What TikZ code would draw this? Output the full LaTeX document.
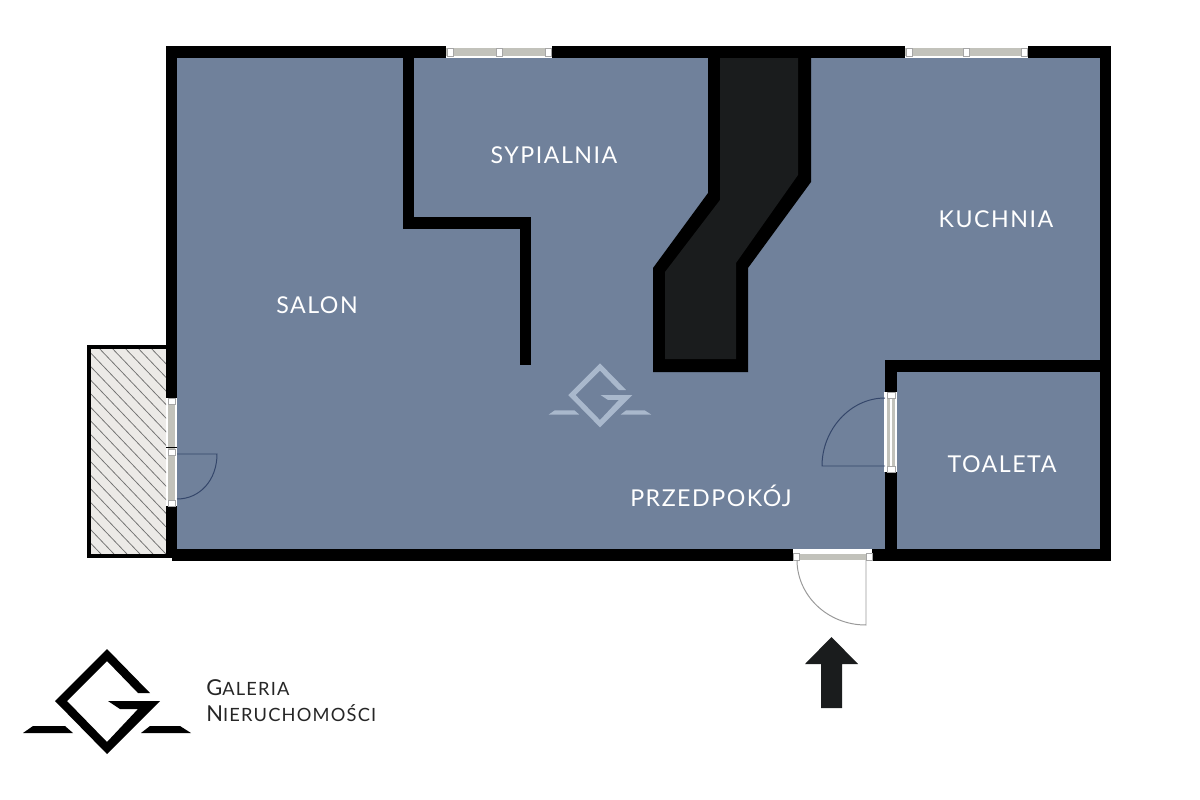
\documentclass[tikz,border=0pt]{standalone}
\usepackage{fontspec}
\setmainfont[LetterSpace=6.5]{Lato}
\usepackage{xcolor}
\definecolor{floorblue}{HTML}{70819B}
\definecolor{flueblack}{HTML}{1A1C1D}
\definecolor{glassgrey}{HTML}{C2C2BB}
\definecolor{terrace}{HTML}{ECEAE7}
\definecolor{markblue}{HTML}{A9B8CC}
\definecolor{leafblue}{HTML}{34466A}
\newcommand{\sashframe}[4]{%
  \fill[white] (#1,#3) rectangle (#2,#4);}
\tikzset{
  logomark/.pic={
    \fill (107,649) -- (150,693) -- (138,693) -- (107,661) -- (67,701) -- (107,742)
      -- (138,709) -- (120,709) -- (108,701) -- (160,701) -- (107,754) -- (55,701) -- cycle;
    \fill (23,733) -- (33,726) -- (65,726) -- (73,733) -- cycle;
    \fill (141,733) -- (150,726) -- (180,726) -- (191,733) -- cycle;
  }
}

\begin{document}
\begin{tikzpicture}[
  x=0.25mm, y=-0.25mm,
  wall/.style={fill=black},
  glass/.style={fill=glassgrey},
  sash/.style={fill=white, draw=gray!70, line width=0.3pt},
  leaf/.style={draw=leafblue, line width=0.7pt},
  leafout/.style={draw=gray!80, line width=0.7pt},
  room/.style={text=white, font=\fontsize{16.5}{18}\selectfont},
  brand/.style={text=black!85, anchor=west, inner sep=0pt, font=\fontsize{13}{14}\selectfont}
]
  \useasboundingbox (0,0) rectangle (1200,800);

  % terrace
  \fill[terrace] (88,346) rectangle (166,557);
  \begin{scope}
    \clip (88,346) rectangle (166,557);
    \foreach \hx in {-150,-137,...,160}
      \draw[gray!90!black, line width=0.55pt] (\hx,346) -- ++(220,230);
  \end{scope}
  \draw[black, line width=2.6pt] (166,347) -- (89,347) -- (89,556) -- (172,556);

  % floor
  \fill[floorblue] (172,52) rectangle (1105,555);

  % outer walls
  \fill[wall] (166,46) rectangle (446,58);
  \fill[wall] (552,46) rectangle (905,58);
  \fill[wall] (1028,46) rectangle (1111,58);
  \fill[wall] (1100,46) rectangle (1111,561);
  \fill[wall] (172,549) rectangle (793,561);
  \fill[wall] (872,549) rectangle (1111,561);
  \fill[wall] (166,46) rectangle (177,398);
  \fill[wall] (166,506) rectangle (177,558);

  % inner walls
  \fill[wall] (403,58) rectangle (414,229);
  \fill[wall] (403,217) rectangle (531,229);
  \fill[wall] (520,217) rectangle (531,365);
  \fill[wall] (885,360) rectangle (1100,372);
  \fill[wall] (885,360) rectangle (897,392);
  \fill[wall] (885,472) rectangle (897,549);

  % flue
  \fill[wall] (708,58) -- (811,58) -- (811,182) -- (748,268) -- (748,372)
    -- (653,372) -- (653,268) -- (708,193) -- cycle;
  \fill[flueblack] (720,58) -- (798,58) -- (798,175) -- (736,263) -- (736,359)
    -- (665,359) -- (665,272) -- (720,200) -- cycle;

  % windows, top
  \foreach \xa/\xb in {446/552, 905/1028} {
    \sashframe{\xa}{\xb}{47}{58}
    \fill[glass] (\xa,48) rectangle (\xb,56);
    \filldraw[sash] (\xa+1,48) rectangle ++(6,8);
    \filldraw[sash] (\xb-7,48) rectangle ++(6,8);
    \filldraw[sash] ({(\xa+\xb)/2-3},48) rectangle ++(6,8);
  }

  % doors
  \sashframe{167}{177}{398}{506}
  \fill[glass] (168,400) rectangle (175,504);
  \filldraw[sash] (168,398) rectangle ++(7,6);
  \filldraw[sash] (168,449) rectangle ++(7,6);
  \filldraw[sash] (168,500) rectangle ++(7,6);
  \draw[black, line width=0.9pt] (166,447.5) -- (177,447.5);
  \draw[leaf] (177,454) -- (217,454) .. controls (217,480) and (200,499) .. (177,499);

  \sashframe{884}{897}{392}{472}
  \fill[glass] (887,394) rectangle (895,470);
  \fill[white] (890,394) rectangle (892,470);
  \filldraw[sash] (887,392) rectangle ++(8,6);
  \filldraw[sash] (887,466) rectangle ++(8,6);
  \draw[leaf] (885,466) -- (822,466) .. controls (822,430) and (850,398) .. (885,398);

  \sashframe{793}{872}{549}{561}
  \fill[glass] (796,554) rectangle (869,560);
  \filldraw[sash] (793,553) rectangle ++(6,7);
  \filldraw[sash] (866,553) rectangle ++(6,7);
  \draw[leafout] (866,560) -- (866,625) .. controls (827,625) and (797,595) .. (797,560);

  % entrance
  \fill[flueblack] (831.5,637) -- (858,664) -- (842,664) -- (842,708) -- (821,708)
    -- (821,664) -- (805,664) -- cycle;

  % marks
  \pic[markblue, scale=0.61] at (534.7,-32.6) {logomark};
  \pic[black] at (0,0) {logomark};

  % labels
  \node[room] (salon) at (317,305) {SALON};
  \node[room] (sypialnia) at (554,155) {SYPIALNIA};
  \node[room] (kuchnia) at (996,219) {KUCHNIA};
  \node[room] (toaleta) at (1002,464) {TOALETA};
  \node[room] (przedpokoj) at (711,496) {PRZEDPOKÓJ};
  \node[brand] (galeria) at (206,688) {{\fontsize{15.6}{14}\selectfont G}ALERIA};
  \node[brand] (nieruchomosci) at (206,713) {{\fontsize{15.6}{14}\selectfont N}IERUCHOMOŚCI};
\end{tikzpicture}
\end{document}
